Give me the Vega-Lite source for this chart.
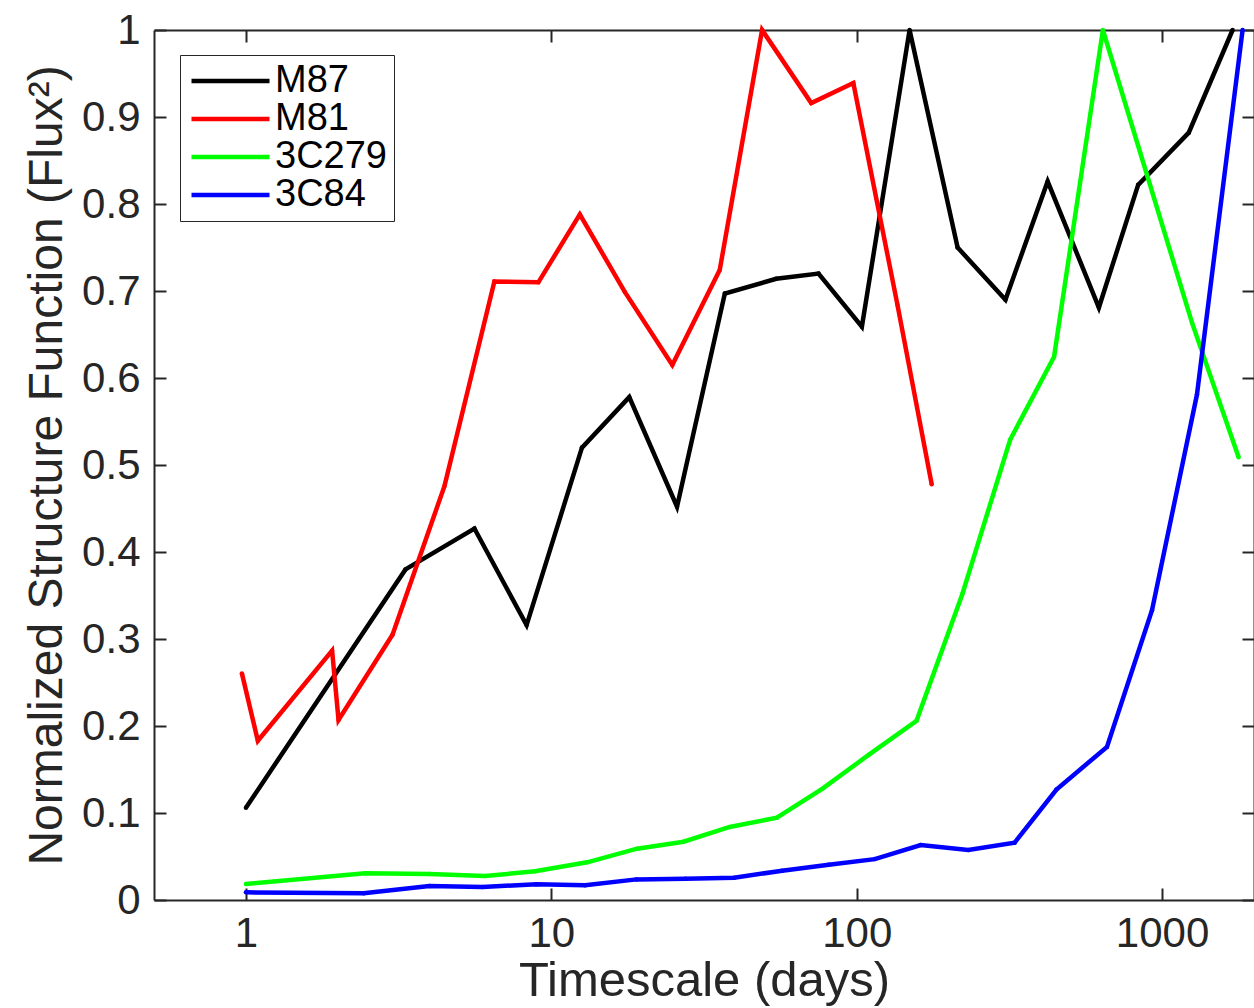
{
  "$schema": "https://vega.github.io/schema/vega-lite/v6.json",
  "width": 1100,
  "height": 870,
  "autosize": {"type": "none"},
  "padding": {"left": 154, "top": 30, "right": 0, "bottom": 108},
  "background": "white",
  "config": {
    "view": {"stroke": null},
    "font": "Liberation Sans",
    "axis": {
      "domainColor": "#262626",
      "domainWidth": 2,
      "tickColor": "#262626",
      "tickWidth": 2,
      "labelColor": "#262626",
      "titleColor": "#262626",
      "labelFont": "Liberation Sans",
      "titleFont": "Liberation Sans",
      "labelFontWeight": "normal",
      "titleFontWeight": "normal",
      "grid": false
    }
  },
  "data": {
    "values": [
      {"series": "M87", "t": 1.0, "sf": 0.106},
      {"series": "M87", "t": 3.33, "sf": 0.380},
      {"series": "M87", "t": 5.6, "sf": 0.427},
      {"series": "M87", "t": 8.3, "sf": 0.316},
      {"series": "M87", "t": 12.6, "sf": 0.520},
      {"series": "M87", "t": 18.0, "sf": 0.578},
      {"series": "M87", "t": 25.8, "sf": 0.452},
      {"series": "M87", "t": 37, "sf": 0.697},
      {"series": "M87", "t": 54.5, "sf": 0.714},
      {"series": "M87", "t": 75, "sf": 0.720},
      {"series": "M87", "t": 104, "sf": 0.659},
      {"series": "M87", "t": 149, "sf": 1.0},
      {"series": "M87", "t": 214, "sf": 0.75},
      {"series": "M87", "t": 307, "sf": 0.69},
      {"series": "M87", "t": 422, "sf": 0.826},
      {"series": "M87", "t": 621, "sf": 0.681},
      {"series": "M87", "t": 835, "sf": 0.822},
      {"series": "M87", "t": 1223, "sf": 0.882},
      {"series": "M87", "t": 1702, "sf": 1.0},
      {"series": "M81", "t": 0.97, "sf": 0.2605},
      {"series": "M81", "t": 1.094, "sf": 0.183},
      {"series": "M81", "t": 1.915, "sf": 0.2866},
      {"series": "M81", "t": 2.01, "sf": 0.207},
      {"series": "M81", "t": 3.02, "sf": 0.305},
      {"series": "M81", "t": 4.47, "sf": 0.476},
      {"series": "M81", "t": 6.51, "sf": 0.711},
      {"series": "M81", "t": 9.07, "sf": 0.710},
      {"series": "M81", "t": 12.4, "sf": 0.788},
      {"series": "M81", "t": 17.4, "sf": 0.699},
      {"series": "M81", "t": 24.9, "sf": 0.615},
      {"series": "M81", "t": 35.6, "sf": 0.724},
      {"series": "M81", "t": 49.0, "sf": 1.0},
      {"series": "M81", "t": 71, "sf": 0.916},
      {"series": "M81", "t": 97.5, "sf": 0.939},
      {"series": "M81", "t": 136, "sf": 0.684},
      {"series": "M81", "t": 176, "sf": 0.478},
      {"series": "3C279", "t": 1.0, "sf": 0.0184},
      {"series": "3C279", "t": 2.46, "sf": 0.0307},
      {"series": "3C279", "t": 3.99, "sf": 0.030},
      {"series": "3C279", "t": 6.07, "sf": 0.0276},
      {"series": "3C279", "t": 8.85, "sf": 0.033},
      {"series": "3C279", "t": 13.1, "sf": 0.0433},
      {"series": "3C279", "t": 19.1, "sf": 0.059},
      {"series": "3C279", "t": 27.1, "sf": 0.067},
      {"series": "3C279", "t": 38.4, "sf": 0.084},
      {"series": "3C279", "t": 54.8, "sf": 0.0946},
      {"series": "3C279", "t": 77.3, "sf": 0.128},
      {"series": "3C279", "t": 110, "sf": 0.1674},
      {"series": "3C279", "t": 157, "sf": 0.206},
      {"series": "3C279", "t": 222, "sf": 0.352},
      {"series": "3C279", "t": 318, "sf": 0.529},
      {"series": "3C279", "t": 443, "sf": 0.6245},
      {"series": "3C279", "t": 640, "sf": 1.0},
      {"series": "3C279", "t": 1253, "sf": 0.6636},
      {"series": "3C279", "t": 1781, "sf": 0.509},
      {"series": "3C84", "t": 1.0, "sf": 0.0088},
      {"series": "3C84", "t": 2.43, "sf": 0.0077},
      {"series": "3C84", "t": 3.99, "sf": 0.016},
      {"series": "3C84", "t": 5.95, "sf": 0.015},
      {"series": "3C84", "t": 8.94, "sf": 0.018},
      {"series": "3C84", "t": 12.9, "sf": 0.0169},
      {"series": "3C84", "t": 19.0, "sf": 0.0237},
      {"series": "3C84", "t": 27.5, "sf": 0.0245},
      {"series": "3C84", "t": 39.7, "sf": 0.0257},
      {"series": "3C84", "t": 57.0, "sf": 0.0337},
      {"series": "3C84", "t": 81.0, "sf": 0.0406},
      {"series": "3C84", "t": 114.6, "sf": 0.047},
      {"series": "3C84", "t": 162, "sf": 0.0632},
      {"series": "3C84", "t": 232, "sf": 0.0575},
      {"series": "3C84", "t": 329, "sf": 0.0659},
      {"series": "3C84", "t": 451, "sf": 0.127},
      {"series": "3C84", "t": 660, "sf": 0.176},
      {"series": "3C84", "t": 927, "sf": 0.333},
      {"series": "3C84", "t": 1301, "sf": 0.581},
      {"series": "3C84", "t": 1835, "sf": 1.0}
    ]
  },
  "layer": [
    {
      "mark": {"type": "line", "strokeWidth": 4.5, "strokeJoin": "miter", "clip": false, "point": {"filled": true, "size": 20}},
      "encoding": {
        "x": {
          "field": "t", "type": "quantitative",
          "scale": {"type": "log", "domain": [0.5, 2000], "nice": false},
          "axis": {
            "orient": "bottom", "values": [1, 10, 100, 1000], "format": "d",
            "tickSize": -12, "labelPadding": 25, "labelFontSize": 42,
            "title": "Timescale (days)", "titleFontSize": 49, "titlePadding": 2
          }
        },
        "y": {
          "field": "sf", "type": "quantitative",
          "scale": {"domain": [0, 1], "nice": false, "zero": false},
          "axis": {
            "orient": "left", "values": [0, 0.1, 0.2, 0.3, 0.4, 0.5, 0.6, 0.7, 0.8, 0.9, 1],
            "format": ".1~f", "tickSize": -12, "labelPadding": 26, "labelFontSize": 42,
            "title": "Normalized Structure Function (Flux²)", "titleFontSize": 48, "titlePadding": 10
          }
        },
        "color": {
          "field": "series", "type": "nominal",
          "scale": {"domain": ["M87", "M81", "3C279", "3C84"], "range": ["#000000", "#ff0000", "#00ff00", "#0000ff"]},
          "legend": {
            "title": null, "orient": "none", "legendX": 26, "legendY": 25,
            "symbolType": "M-6,0H6", "symbolStrokeWidth": 4.5, "symbolSize": 169,
            "symbolOffset": 24.5,
            "labelFontSize": 38, "labelColor": "#000000", "labelFont": "Liberation Sans",
            "rowPadding": 0, "labelOffset": 25.5,
            "strokeColor": "#262626", "fillColor": "white", "padding": 7
          }
        }
      }
    },
    {
      "mark": {"type": "line", "opacity": 0},
      "encoding": {
        "x": {
          "field": "t", "type": "quantitative",
          "scale": {"type": "log", "domain": [0.5, 2000], "nice": false},
          "axis": {"orient": "top", "values": [1, 10, 100, 1000], "labels": false, "title": null, "tickSize": -12}
        },
        "y": {
          "field": "sf", "type": "quantitative",
          "scale": {"domain": [0, 1], "nice": false, "zero": false},
          "axis": {"orient": "right", "values": [0, 0.1, 0.2, 0.3, 0.4, 0.5, 0.6, 0.7, 0.8, 0.9, 1], "labels": false, "title": null, "tickSize": -12}
        },
        "detail": {"field": "series"}
      }
    }
  ],
  "resolve": {"axis": {"x": "independent", "y": "independent"}}
}
